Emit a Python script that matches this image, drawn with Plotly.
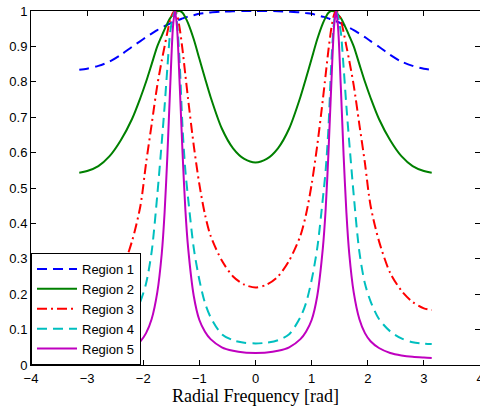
import plotly.graph_objects as go

# Radial frequency samples (rad)
freq = [-3.14, -3.0, -2.8, -2.6, -2.4, -2.2, -2.05, -1.95, -1.85, -1.75, -1.67, -1.62, -1.57, -1.52,
        -1.47, -1.435, -1.4, -1.35, -1.3, -1.25, -1.2, -1.1, -1.0, -0.9, -0.8, -0.6, -0.4, -0.2,
        0.0,
        0.2, 0.4, 0.6, 0.8, 0.9, 1.0, 1.1, 1.2, 1.25, 1.3, 1.35, 1.4, 1.435, 1.47, 1.52, 1.57,
        1.62, 1.67, 1.75, 1.85, 1.95, 2.05, 2.2, 2.4, 2.6, 2.8, 3.0, 3.14]

region1 = [0.834, 0.837, 0.845, 0.857, 0.876, 0.899, 0.915, 0.926, 0.936, 0.946, 0.953, 0.957, 0.961, 0.965,
           0.969, 0.971, 0.973, 0.976, 0.979, 0.982, 0.984, 0.988, 0.992, 0.994, 0.996, 0.998, 0.9995, 1.0,
           1.0,
           1.0, 0.9995, 0.998, 0.996, 0.994, 0.992, 0.988, 0.984, 0.982, 0.979, 0.976, 0.973, 0.971, 0.969,
           0.965, 0.961, 0.957, 0.953, 0.946, 0.936, 0.926, 0.915, 0.899, 0.876, 0.857, 0.845, 0.837, 0.834]

region2 = [0.543, 0.548, 0.562, 0.59, 0.635, 0.695, 0.755, 0.8, 0.85, 0.9, 0.93, 0.948, 0.965, 0.98,
           0.99, 0.996, 0.999, 1.0, 0.995, 0.982, 0.965, 0.92, 0.865, 0.81, 0.757, 0.668, 0.612, 0.582,
           0.572,
           0.582, 0.612, 0.668, 0.757, 0.81, 0.865, 0.92, 0.965, 0.982, 0.995, 1.0, 0.999, 0.996, 0.99,
           0.98, 0.965, 0.948, 0.93, 0.9, 0.85, 0.8, 0.755, 0.695, 0.635, 0.59, 0.562, 0.548, 0.543]

region3 = [0.155, 0.16, 0.178, 0.21, 0.26, 0.35, 0.45, 0.57, 0.68, 0.79, 0.86, 0.9, 0.94, 0.975,
           0.995, 1.0, 0.99, 0.95, 0.89, 0.82, 0.75, 0.62, 0.51, 0.425, 0.365, 0.295, 0.25, 0.227,
           0.219,
           0.227, 0.25, 0.295, 0.365, 0.425, 0.51, 0.62, 0.75, 0.82, 0.89, 0.95, 0.99, 1.0, 0.995,
           0.975, 0.94, 0.9, 0.86, 0.79, 0.68, 0.57, 0.45, 0.35, 0.26, 0.21, 0.178, 0.16, 0.155]

region4 = [0.059, 0.06, 0.064, 0.075, 0.095, 0.13, 0.18, 0.23, 0.32, 0.48, 0.63, 0.73, 0.84, 0.94,
           0.985, 1.0, 0.97, 0.85, 0.67, 0.55, 0.47, 0.33, 0.24, 0.175, 0.135, 0.087, 0.07, 0.063,
           0.061,
           0.063, 0.07, 0.087, 0.135, 0.175, 0.24, 0.33, 0.47, 0.55, 0.67, 0.85, 0.97, 1.0, 0.985,
           0.94, 0.84, 0.73, 0.63, 0.48, 0.32, 0.23, 0.18, 0.13, 0.095, 0.075, 0.064, 0.06, 0.059]

region5 = [0.02, 0.021, 0.023, 0.027, 0.034, 0.048, 0.067, 0.09, 0.13, 0.205, 0.315, 0.43, 0.592, 0.786,
           0.956, 1.0, 0.957, 0.79, 0.6, 0.44, 0.33, 0.195, 0.127, 0.094, 0.073, 0.05, 0.04, 0.035,
           0.034,
           0.035, 0.04, 0.05, 0.073, 0.094, 0.127, 0.195, 0.33, 0.44, 0.6, 0.79, 0.957, 1.0, 0.956,
           0.786, 0.592, 0.43, 0.315, 0.205, 0.13, 0.09, 0.067, 0.048, 0.034, 0.027, 0.023, 0.021, 0.02]

names = ["Region 1", "Region 2", "Region 3", "Region 4", "Region 5"]
colors = ["#0000FF", "#008000", "#FF0000", "#00BFBF", "#BF00BF"]
dashes = ["10px,6px", "solid", "10px,4px,2px,4px", "10px,6px", "solid"]
series = [region1, region2, region3, region4, region5]

fig = go.Figure()
for nm, col, ds, ys in zip(names, colors, dashes, series):
    fig.add_trace(go.Scatter(x=freq, y=ys, mode="lines", name=nm,
                             line=dict(color=col, width=2, dash=ds, shape="spline", smoothing=0.8)))

# invisible trace for right-side ticks
fig.add_trace(go.Scatter(x=[0], y=[0], yaxis="y2", mode="lines", showlegend=False,
                         hoverinfo="skip", line=dict(width=0)))

font_sans = "Liberation Sans, Arial, sans-serif"
fig.update_layout(
    width=480, height=407,
    margin=dict(l=31, r=0, t=11, b=42, autoexpand=False),
    paper_bgcolor="white", plot_bgcolor="white",
    showlegend=True,
    font=dict(family=font_sans, size=13, color="black"),
    xaxis=dict(range=[-4, 4], tickmode="array", tickvals=[-4, -3, -2, -1, 0, 1, 2, 3, 4],
               ticks="inside", ticklen=5, tickcolor="black", showline=True, linecolor="black",
               linewidth=1, mirror="ticks", showgrid=False, zeroline=False,
               ticklabeloverflow="allow", automargin=False, ticklabelstandoff=1,
               tickfont=dict(family=font_sans, size=13),
               title=dict(text="Radial Frequency [rad]", standoff=4,
                          font=dict(family="Liberation Serif, Times New Roman, serif", size=18))),
    yaxis=dict(range=[0, 1], tickmode="array",
               tickvals=[0, 0.1, 0.2, 0.3, 0.4, 0.5, 0.6, 0.7, 0.8, 0.9, 1],
               ticktext=["0", "0.1", "0.2", "0.3", "0.4", "0.5", "0.6", "0.7", "0.8", "0.9", "1"],
               ticks="inside", ticklen=5, tickcolor="black", showline=True, linecolor="black",
               linewidth=1, mirror=False, showgrid=False, zeroline=False, automargin=False,
               tickfont=dict(family=font_sans, size=13)),
    yaxis2=dict(range=[0, 1], overlaying="y", side="right", tickmode="array",
                tickvals=[0, 0.1, 0.2, 0.3, 0.4, 0.5, 0.6, 0.7, 0.8, 0.9, 1],
                ticks="inside", ticklen=5, tickcolor="black", showline=False, automargin=False,
                showticklabels=False, showgrid=False, zeroline=False),
    legend=dict(x=0, y=0, xanchor="left", yanchor="bottom", bgcolor="white",
                bordercolor="black", borderwidth=1, font=dict(family=font_sans, size=13),
                tracegroupgap=0, itemwidth=40),
)

fig.write_html("out.html")
